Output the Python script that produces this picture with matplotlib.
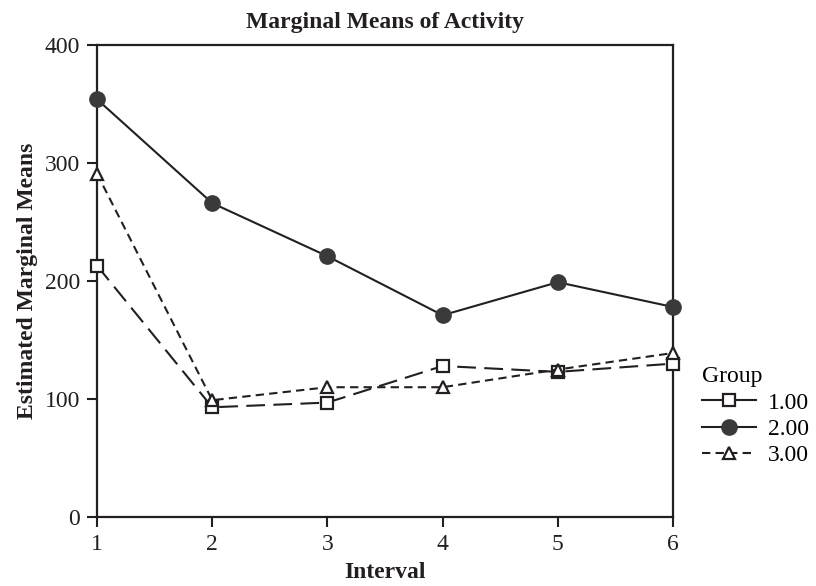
import matplotlib
matplotlib.use("Agg")
import matplotlib.pyplot as plt
from matplotlib.lines import Line2D

intervals = [1, 2, 3, 4, 5, 6]
group1 = [213, 93, 97, 128, 123, 130]
group2 = [354, 266, 221, 171, 199, 178]
group3 = [291, 99, 110, 110, 125, 139]
group_labels = ["1.00", "2.00", "3.00"]

plt.rcParams['font.family'] = ['Liberation Serif', 'DejaVu Serif']

fig = plt.figure(figsize=(8.16, 5.86), dpi=100)
ax = fig.add_axes([0.1189, 0.1177, 0.8248 - 0.1189, 0.9232 - 0.1177])

ink = '#231f20'
fill2 = '#3a3a3a'
ax.plot(intervals, group1, color=ink, lw=1.5, dashes=(9, 4), marker='s', ms=9,
        mfc='white', mec=ink, mew=1.6, clip_on=False, zorder=3)
ax.plot(intervals, group2, color=ink, lw=1.5, linestyle='-', marker='o', ms=11,
        mfc=fill2, mec=fill2, clip_on=False, zorder=4)
ax.plot(intervals, group3, color=ink, lw=1.5, dashes=(4, 2.5), marker='^', ms=9,
        mfc='white', mec=ink, mew=1.6, clip_on=False, zorder=3)

ax.set_xlim(1, 6)
ax.set_ylim(0, 400)
ax.set_xticks(intervals)
ax.set_yticks([0, 100, 200, 300, 400])
for s in ax.spines.values():
    s.set_linewidth(1.6)
    s.set_color(ink)
ax.tick_params(direction='out', length=7, width=1.5, labelsize=17, colors=ink, pad=5)

ax.set_title("Marginal Means of Activity", fontsize=17, fontweight='bold', pad=12, color=ink)
ax.set_xlabel("Interval", fontsize=17, fontweight='bold', labelpad=5, color=ink)
ax.set_ylabel("Estimated Marginal Means", fontsize=17, fontweight='bold', labelpad=5, color=ink)

handles = [
    Line2D([], [], color=ink, lw=1.5, linestyle='-', marker='s', ms=9, mfc='white', mec=ink, mew=1.6),
    Line2D([], [], color=ink, lw=1.5, linestyle='-', marker='o', ms=11, mfc=fill2, mec=fill2),
    Line2D([], [], color=ink, lw=1.5, dashes=(4, 2.5), marker='^', ms=9, mfc='white', mec=ink, mew=1.6),
]
leg = fig.legend(handles, group_labels, title="Group", loc='upper left',
                 bbox_to_anchor=(0.846, 0.395), frameon=False, fontsize=17,
                 title_fontsize=17, handlelength=2.3, handletextpad=0.5,
                 labelspacing=0.2, borderpad=0)
leg._legend_box.align = "left"

fig.savefig("out.png", dpi=100)
